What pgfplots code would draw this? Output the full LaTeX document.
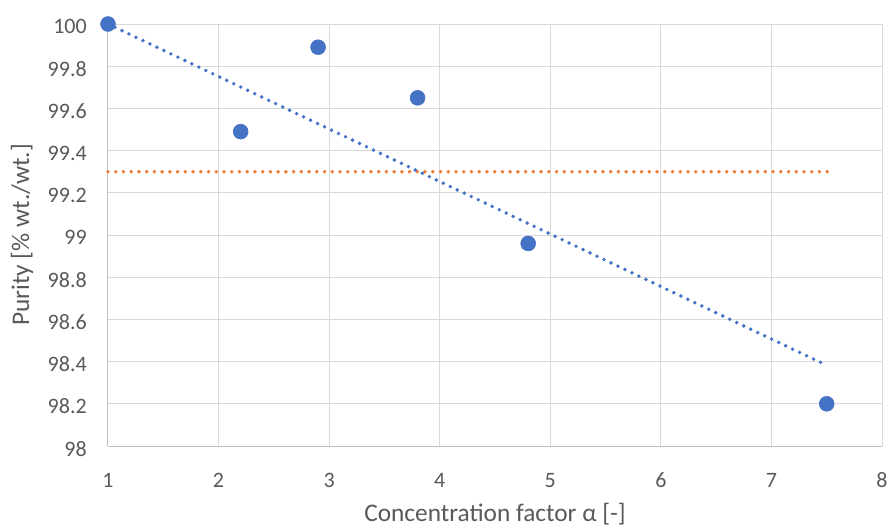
\documentclass[border=0pt]{standalone}
\usepackage{fontspec}
\setmainfont{Carlito}
\usepackage{pgfplots}
\pgfplotsset{compat=1.18}
\definecolor{cblue}{HTML}{4472C4}
\definecolor{corange}{HTML}{ED7D31}
\definecolor{cgrid}{HTML}{D9D9D9}
\definecolor{caxis}{HTML}{BFBFBF}
\definecolor{ctext}{HTML}{595959}
\begin{document}
\begin{tikzpicture}
\begin{axis}[
  scale only axis,
  width=580.5pt, height=316.5pt,
  xmin=1, xmax=8, ymin=98, ymax=100,
  xtick={1,2,...,8},
  ytick={98,98.2,...,100.01},
  yticklabels={98,98.2,98.4,98.6,98.8,99,99.2,99.4,99.6,99.8,100},
  /pgf/number format/assume math mode=true,
  grid=major,
  major grid style={cgrid, line width=0.75pt},
  axis x line*=bottom, axis y line*=left,
  axis line style={caxis, line width=0.75pt, -},
  tick style={draw=none},
  ticklabel style={font=\fontsize{16.5}{19}\selectfont, text=ctext, inner sep=0pt},
  xticklabel style={anchor=base, yshift=-30.75pt},
  yticklabel style={anchor=east, xshift=-15.75pt, yshift=-2pt},
  xlabel={Concentration factor α [-]},
  ylabel={Purity [\% wt./wt.]},
  label style={font=\fontsize{19}{22}\selectfont, text=ctext},
  xlabel style={at={(rel axis cs:0.5,0)}, anchor=base, yshift=-56.5pt},
  ylabel style={at={(rel axis cs:0,0.5)}, anchor=center, yshift=64.5pt},
  clip=false,
]
\coordinate (LL) at (rel axis cs:0,0);
\coordinate (UR) at (rel axis cs:1,1);
\addplot[corange, line width=2.9pt, line cap=round, dash pattern=on 0pt off 5.8pt] coordinates {(1,99.3) (7.52,99.3)};
\addplot[cblue, line width=2.9pt, line cap=round, dash pattern=on 0pt off 5.8pt] coordinates {(1,100) (7.47,98.39)};
\addplot[only marks, mark=*, mark size=5.6pt, mark options={fill=cblue, draw=cblue}] coordinates {
(1,100) (2.2,99.49) (2.9,99.89) (3.8,99.65) (4.8,98.96) (7.5,98.2)};
\end{axis}
\pgfresetboundingbox
\path[use as bounding box] ([shift={(-81pt,-62.25pt)}]LL) rectangle ([shift={(7.5pt,18pt)}]UR);
\end{tikzpicture}
\end{document}
